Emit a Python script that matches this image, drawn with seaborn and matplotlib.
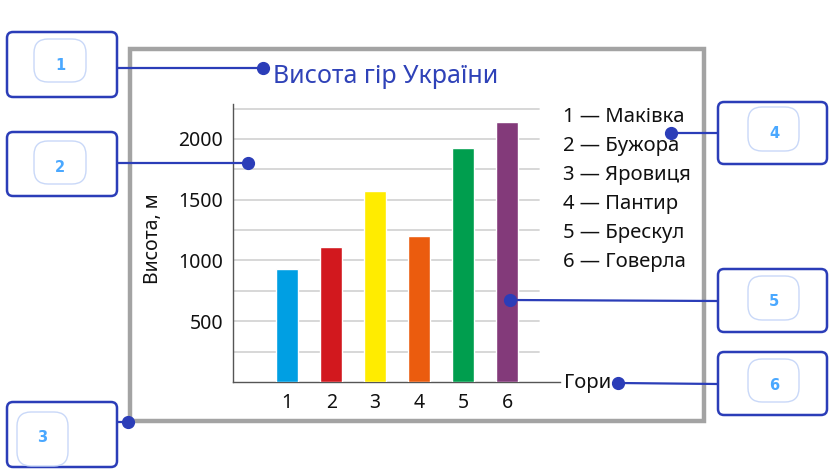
import matplotlib
matplotlib.use("Agg")
import matplotlib.pyplot as plt
from matplotlib.patches import FancyBboxPatch, Rectangle
import seaborn as sns
import pandas as pd

# ---- data ----
numbers = ["1", "2", "3", "4", "5", "6"]
names = ["Маківка", "Бужора", "Яровиця", "Пантир", "Брескул", "Говерла"]
heights = [930, 1110, 1575, 1205, 1925, 2140]
colors = ["#009FE3", "#D2181E", "#FFEC00", "#EB5C0E", "#009E4E", "#833A7A"]
ytick_values = [500, 1000, 1500, 2000]
grid_values = [250, 500, 750, 1000, 1250, 1500, 1750, 2000, 2250]
title = "Висота гір України"
ylabel = "Висота, м"
xlabel = "Гори"
callout_numbers = ["1", "2", "3", "4", "5", "6"]

sns.set_theme(style="white")
plt.rcParams["font.family"] = ["Noto Sans", "DejaVu Sans"]

W, H = 835, 476
fig = plt.figure(figsize=(W / 100, H / 100), dpi=100)
fig.patch.set_facecolor("white")

# chart axes in pixel layout
ax_l, ax_r, ax_t, ax_b = 233, 560, 104, 382
ax = fig.add_axes([ax_l / W, 1 - ax_b / H, (ax_r - ax_l) / W, (ax_b - ax_t) / H])

df = pd.DataFrame({"mountain": numbers, "height": heights})
sns.barplot(data=df, x="mountain", y="height", hue="mountain", palette=colors,
            width=0.49, saturation=1, legend=False, ax=ax, zorder=3)

ax.set_xlim(-1.23, 6.2)
ax.set_ylim(0, 2288)
for g in grid_values:
    ax.axhline(g, xmin=0, xmax=0.935, color="#d4d4d4", lw=1.3, zorder=1)

for s in ["top", "right"]:
    ax.spines[s].set_visible(False)
for s in ["left", "bottom"]:
    ax.spines[s].set_color("#555555")
    ax.spines[s].set_linewidth(1.0)

ax.set_yticks(ytick_values)
ax.set_yticklabels([str(v) for v in ytick_values])
ax.tick_params(axis="y", length=0, pad=7, labelsize=14, labelcolor="#111111")
ax.tick_params(axis="x", length=0, pad=8, labelsize=14, labelcolor="#111111")

ax.set_ylabel(ylabel, fontsize=14, color="#111111", va="center")
ax.yaxis.set_label_coords(-0.245, 0.514)
ax.set_xlabel(xlabel, fontsize=14.5, color="#111111", ha="left", va="center")
ax.xaxis.set_label_coords(1.013, -0.003)

# ---- overlay in pixel coordinates ----
ov = fig.add_axes([0, 0, 1, 1], zorder=10)
ov.set_xlim(0, W)
ov.set_ylim(H, 0)
ov.axis("off")
ov.patch.set_alpha(0)

# grey frame
ov.add_patch(Rectangle((130, 49), 574, 372, fill=False, ec="#a3a3a3", lw=3.2))

# title
ov.text(273, 83, title, fontsize=18, color="#2F42B8", ha="left", va="baseline")

# legend text
for i, (n, name) in enumerate(zip(numbers, names)):
    ov.text(563, 117 + 29 * i, f"{n} — {name}", fontsize=14.6, color="#111111",
            ha="left", va="center")

dark = "#2B3DB8"
boxes = [
    # (x, y, w, h, inner_x, inner_y, inner_w, inner_h, num_xy, line)
    (7, 32, 110, 65, 34, 39, 52, 43, (60, 66), ((117, 68), (263, 68))),
    (7, 132, 110, 64, 34, 141, 52, 43, (60, 168), ((117, 163), (248, 163))),
    (7, 402, 110, 65, 17, 412, 51, 54, (42, 438), ((117, 422), (128, 422))),
    (718, 102, 109, 62, 748, 107, 51, 44, (774, 134), ((718, 133), (671, 133))),
    (718, 269, 109, 63, 748, 276, 51, 44, (774, 302), ((718, 301), (510, 300))),
    (718, 352, 109, 63, 748, 359, 51, 43, (774, 385), ((718, 384), (618, 383))),
]
for num, (x, y, w, h, ix, iy, iw, ih, nxy, line) in zip(callout_numbers, boxes):
    ov.add_patch(FancyBboxPatch((x, y), w, h,
                                boxstyle="round,pad=0,rounding_size=6",
                                fc="white", ec=dark, lw=1.8))
    ov.add_patch(FancyBboxPatch((ix, iy), iw, ih,
                                boxstyle="round,pad=0,rounding_size=14",
                                fc="white", ec="#C9D8F8", lw=1.0))
    ov.text(nxy[0], nxy[1], num, fontsize=10.5, fontweight="bold",
            family="DejaVu Sans", color="#4AA8FF", ha="center", va="center")
    (x0, y0), (x1, y1) = line
    ov.plot([x0, x1], [y0, y1], color=dark, lw=1.6, solid_capstyle="butt")
    ov.plot([x1], [y1], "o", color=dark, ms=8.5, mec=dark)

fig.savefig("out.png", dpi=100, facecolor="white")
